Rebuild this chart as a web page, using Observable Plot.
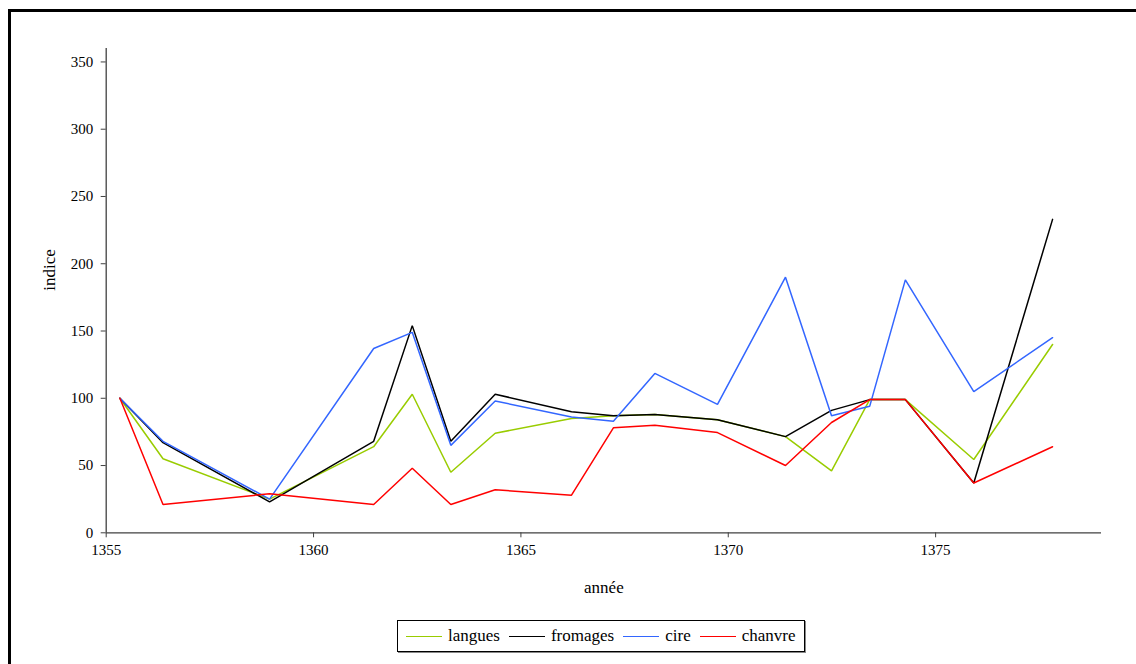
<!DOCTYPE html>
<html>
<head>
<meta charset="utf-8">
<script src="https://cdn.jsdelivr.net/npm/d3@7"></script>
<script src="https://cdn.jsdelivr.net/npm/@observablehq/plot@0.6"></script>
<style>
  html, body { margin: 0; padding: 0; background: #fff; overflow: hidden; }
  body { width: 1136px; height: 664px; position: relative; font-family: "Liberation Serif", "Times New Roman", serif; }
  #frame { position: absolute; left: 8px; top: 9px; width: 1200px; height: 700px; border-left: 3px solid #000; border-top: 3px solid #000; box-sizing: border-box; }
  #chart { position: absolute; left: 0; top: 0; }
  #chart svg text { font-family: "Liberation Serif", "Times New Roman", serif; }
  #legend { position: absolute; left: 397px; top: 620px; width: 408px; height: 32px; border: 1px solid #000; box-sizing: border-box; box-shadow: 1px 1px 0 #888; display: flex; align-items: center; padding-left: 8px; font-family: "Liberation Serif", "Times New Roman", serif; font-size: 17px; color: #000; }
  .item { display: flex; align-items: center; margin-right: 9px; }
  .sw { width: 36px; height: 0; border-top: 1.5px solid; margin-right: 6px; }
</style>
</head>
<body>
<div id="frame"></div>
<div id="chart"></div>
<div id="legend"></div>
<script>
const years = [1355.33, 1356.37, 1358.94, 1361.45, 1362.38, 1363.31, 1364.38, 1366.22, 1367.23, 1368.23, 1369.74, 1371.38, 1372.49, 1373.41, 1374.27, 1375.92, 1377.82];
const langues  = [100, 55, 25, 64, 103, 45, 74, 85, 87, 88, 84, 71.5, 46, 99, 99, 54.5, 140];
const fromages = [100, 67, 23, 68, 154, 68, 103, 90, 87, 88, 84, 71.5, 91, 99, 99, 37, 233];
const cire     = [100, 68, 25, 137, 149, 65, 98, 86, 83, 118.5, 95.5, 190, 87, 94, 188, 105, 145];
const chanvre  = [100, 21, 29, 21, 48, 21, 32, 28, 78, 80, 74.5, 50, 82, 99, 99, 37, 64];
const seriesNames = ["langues", "fromages", "cire", "chanvre"];
const seriesValues = [langues, fromages, cire, chanvre];
const seriesColors = ["#99CC00", "#000000", "#3366FF", "#FF0000"];
const xTicks = [1355, 1360, 1365, 1370, 1375];
const yTicks = [0, 50, 100, 150, 200, 250, 300, 350];

const data = [];
seriesNames.forEach((name, i) => {
  seriesValues[i].forEach((v, j) => data.push({serie: name, annee: years[j], indice: v}));
});

const FF = "Liberation Serif, Times New Roman, serif";
const chart = Plot.plot({
  width: 1136,
  height: 600,
  marginLeft: 105.7,
  marginRight: 35,
  marginTop: 48,
  marginBottom: 67.7,
  style: {fontFamily: FF, fontSize: "15px", color: "#000", background: "transparent"},
  x: {domain: [1355, 1379]},
  y: {domain: [0, 360]},
  color: {domain: seriesNames, range: seriesColors},
  marks: [
    Plot.ruleX([1355], {stroke: "#404040", strokeWidth: 1.3}),
    Plot.ruleY([0], {stroke: "#404040", strokeWidth: 1.3}),
    Plot.axisX({ticks: xTicks, tickFormat: d => String(d), tickSize: 5, tickPadding: 7, fontSize: 15, fontFamily: FF, stroke: "#404040", label: null}),
    Plot.axisY({ticks: yTicks, tickSize: 5, tickPadding: 8, fontSize: 15, fontFamily: FF, stroke: "#404040", label: null}),
    Plot.line(data, {x: "annee", y: "indice", z: "serie", stroke: "serie", strokeWidth: 1.5, strokeLinejoin: "miter", curve: "linear"}),
    Plot.text(["indice"], {frameAnchor: "left", dx: -57, rotate: -90, fontSize: 17, fontFamily: FF, text: d => d}),
    Plot.text(["année"], {x: 1367, y: 0, dy: 55, fontSize: 17, fontFamily: FF, text: d => d})
  ]
});
document.getElementById("chart").appendChild(chart);

const legend = document.getElementById("legend");
seriesNames.forEach((name, i) => {
  const item = document.createElement("div");
  item.className = "item";
  const sw = document.createElement("span");
  sw.className = "sw";
  sw.style.borderTopColor = seriesColors[i];
  const label = document.createElement("span");
  label.textContent = name;
  item.appendChild(sw);
  item.appendChild(label);
  legend.appendChild(item);
});
</script>
</body>
</html>
